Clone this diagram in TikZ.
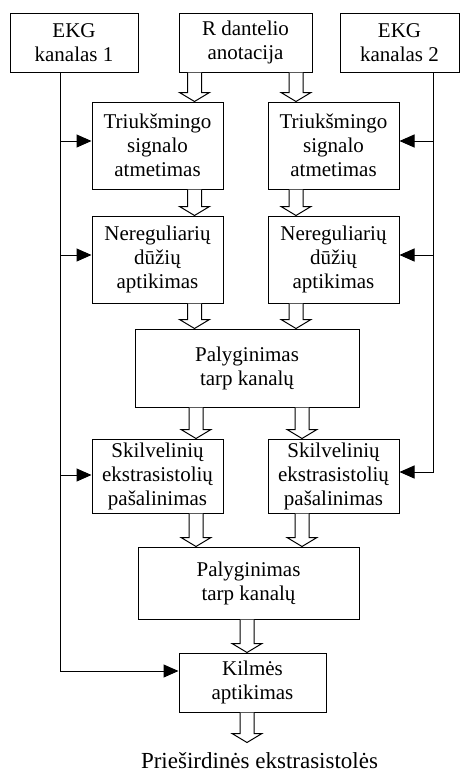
\documentclass[tikz,border=0pt]{standalone}
\usepackage{fontspec}
\setmainfont{Liberation Serif}
\usetikzlibrary{arrows.meta,calc}
\newcommand{\fatarrow}[3]{%
	\draw [hollow] ($(#2.south -| #1)+(-7,0)$) -- ($(#3.north -| #1)+(-7,-9)$) -- ++(-8,0) -- (#3.north -| #1) -- ++(15,-9) -- ++(-8,0) -- ($(#2.south -| #1)+(7,0)$);}

\begin{document}
\begin{tikzpicture}[x=1pt, y=-1pt, >={Triangle[length=15pt,width=13pt]}, line width=1pt,
	box/.style={draw, align=center, inner sep=0pt},
	hollow/.style={fill=white},
	font=\fontsize{21}{24}\selectfont]
	\useasboundingbox (0,0) rectangle (460,772);
	\node (ek1) [box, minimum width=128pt, minimum height=59pt] at (74,42.5) {EKG\\kanalas 1};
	\node (rd) [box, minimum width=133pt, minimum height=59pt] at (245.5,42.5) {R dantelio\\anotacija};
	\node (ek2) [box, minimum width=119pt, minimum height=59pt] at (399.5,42.5) {EKG\\kanalas 2};
	\node (t1) [box, minimum width=131pt, minimum height=87pt] at (157.5,145.5) {Triukšmingo\\signalo\\atmetimas};
	\node (t2) [box, minimum width=131pt, minimum height=87pt] at (333.5,145.5) {Triukšmingo\\signalo\\atmetimas};
	\node (n1) [box, minimum width=131pt, minimum height=87pt] at (157.5,259.5) {Nereguliarių\\dūžių\\aptikimas};
	\node (n2) [box, minimum width=131pt, minimum height=87pt] at (333.5,259.5) {Nereguliarių\\dūžių\\aptikimas};
	\node (p1) [box, minimum width=224pt, minimum height=78pt] at (247,368) {Palyginimas\\tarp kanalų};
	\node (s1) [box, minimum width=131pt, minimum height=74pt] at (157.5,476) {Skilvelinių\\ekstrasistolių\\pašalinimas};
	\node (s2) [box, minimum width=131pt, minimum height=74pt] at (333.5,476) {Skilvelinių\\ekstrasistolių\\pašalinimas};
	\node (p2) [box, minimum width=221pt, minimum height=72pt] at (248.5,583) {Palyginimas\\tarp kanalų};
	\node (kil) [box, minimum width=147pt, minimum height=59pt] at (252.5,682.5) {Kilmės\\aptikimas};
	\node (out) [font=\fontsize{23}{26}\selectfont, inner xsep=0pt, inner ysep=9pt, text height=16pt, text depth=5pt] at (259.5,762.5) {Prieširdinės ekstrasistolės};
	\coordinate (c1) at (194.5,0);
	\coordinate (c2) at (296,0);
	\coordinate (c3) at (196,0);
	\coordinate (c4) at (302,0);
	\coordinate (c5) at (247,0);
	\fatarrow{c1}{rd}{t1}
	\fatarrow{c2}{rd}{t2}
	\fatarrow{c1}{t1}{n1}
	\fatarrow{c2}{t2}{n2}
	\fatarrow{c1}{n1}{p1}
	\fatarrow{c2}{n2}{p1}
	\fatarrow{c3}{p1}{s1}
	\fatarrow{c4}{p1}{s2}
	\fatarrow{c3}{s1}{p2}
	\fatarrow{c4}{s2}{p2}
	\fatarrow{c5}{p2}{kil}
	\fatarrow{c5}{kil}{out}
	\coordinate (l0) at ([xshift=-14pt]ek1.south);
	\coordinate (r0) at ([xshift=33.5pt]ek2.south);
	\draw [->] (l0) |- ([yshift=11.5pt]kil.west);
	\draw [->] (r0) |- ([yshift=4pt]s2.east);
	\foreach \b/\s in {t1/4.5, n1/4.5, s1/1}
		\draw [->] ($(l0 |- \b.west)+(0,-\s)$) -- ($(\b.west)+(0,-\s)$);
	\foreach \b/\s in {t2/4.5, n2/4.5}
		\draw [->] ($(r0 |- \b.east)+(0,-\s)$) -- ($(\b.east)+(0,-\s)$);
\end{tikzpicture}
\end{document}
